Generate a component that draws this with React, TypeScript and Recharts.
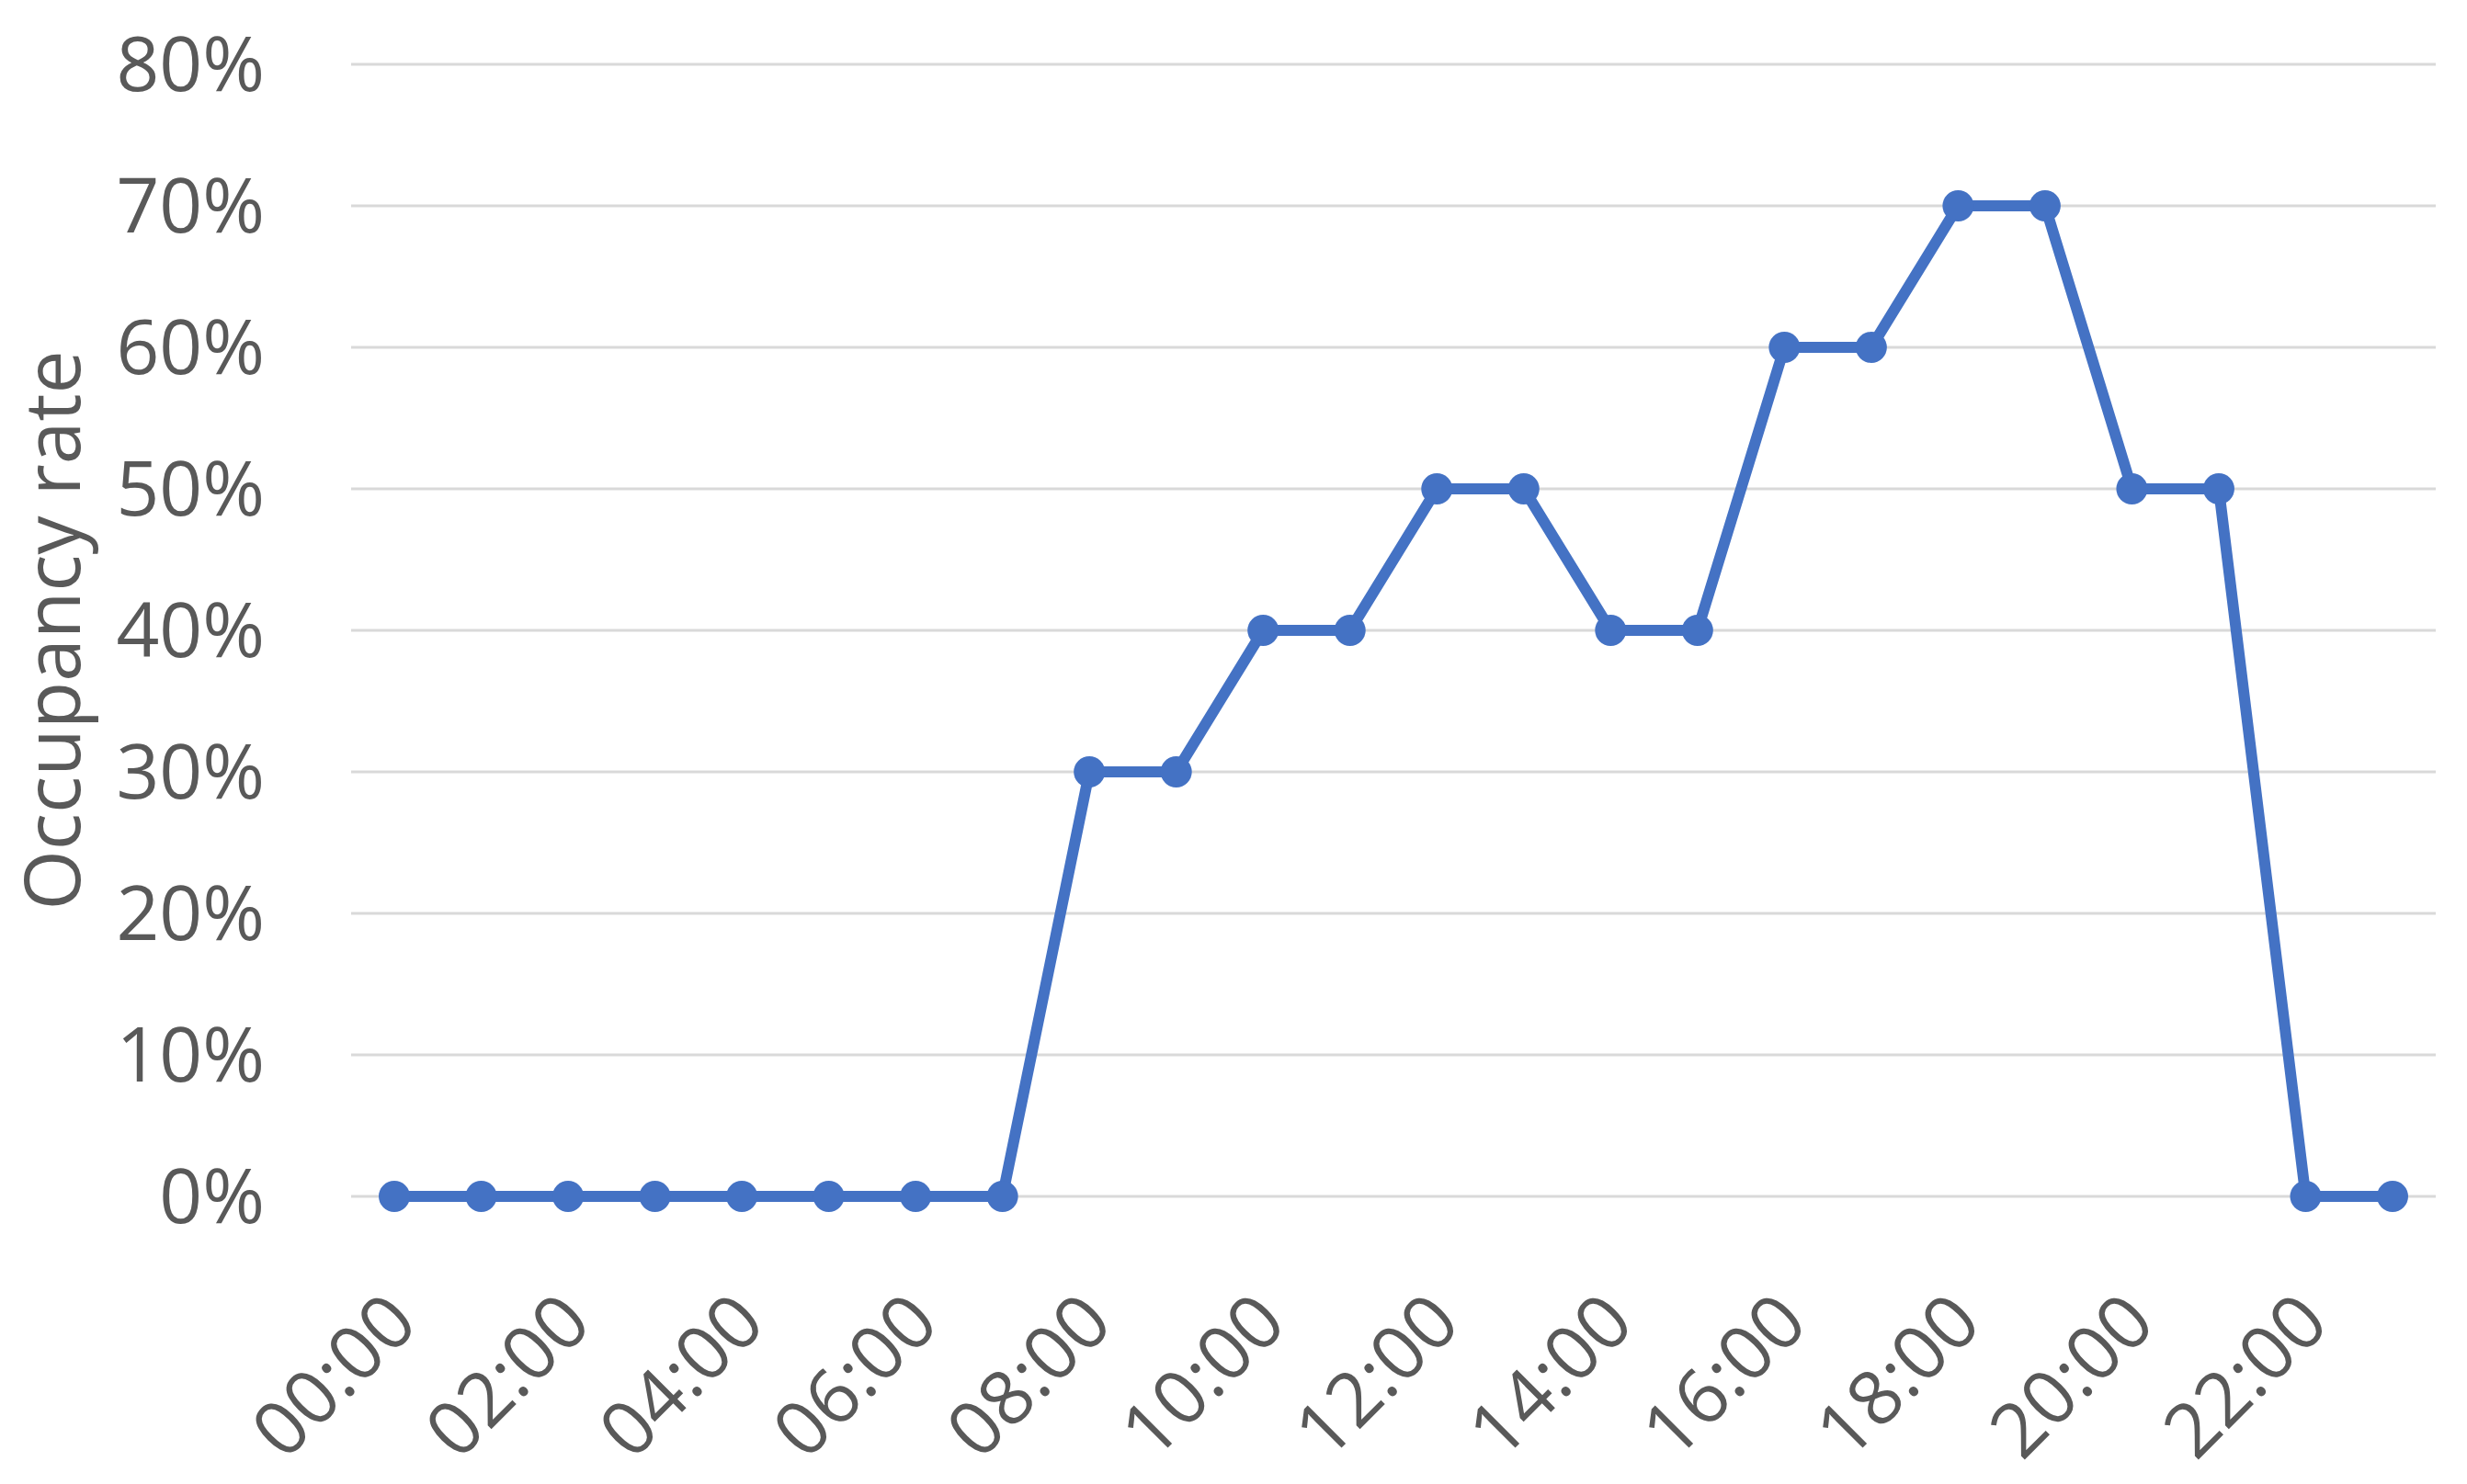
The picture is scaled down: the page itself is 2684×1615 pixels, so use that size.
import { LineChart, Line, XAxis, YAxis, CartesianGrid } from 'recharts'

const hours = [
  '00:00', '01:00', '02:00', '03:00', '04:00', '05:00', '06:00', '07:00',
  '08:00', '09:00', '10:00', '11:00', '12:00', '13:00', '14:00', '15:00',
  '16:00', '17:00', '18:00', '19:00', '20:00', '21:00', '22:00', '23:00',
]
const occupancy = [0, 0, 0, 0, 0, 0, 0, 0, 30, 30, 40, 40, 50, 50, 40, 40, 60, 60, 70, 70, 50, 50, 0, 0]
const yTicks = [0, 10, 20, 30, 40, 50, 60, 70, 80]

const data = hours.map((time, i) => ({ time, value: occupancy[i] }))

const FONT = '"Open Sans", "Noto Sans", sans-serif'
const TEXT = '#595959'
const BLUE = '#4472C4'

function HourTick({ x, y, payload }: any) {
  return (
    <g transform={`translate(${x + 8},${y + 121})`}>
      <text
        transform="rotate(-45)"
        textAnchor="end"
        dy="0.35em"
        fontSize={82}
        fontFamily={FONT}
        fill={TEXT}
      >
        {payload.value}
      </text>
    </g>
  )
}

function YTitle({ viewBox }: any) {
  const cx = 58
  const cy = viewBox.y + viewBox.height / 2
  return (
    <text
      x={cx}
      y={cy}
      transform={`rotate(-90, ${cx}, ${cy})`}
      textAnchor="middle"
      dy="0.35em"
      fontSize={84}
      fontFamily={FONT}
      fill={TEXT}
    >
      Occupancy rate
    </text>
  )
}

export default function App() {
  return (
    <div style={{ position: 'absolute', left: 0, top: 0, background: '#fff' }}>
      <LineChart
        width={2684}
        height={1615}
        data={data}
        margin={{ top: 70, right: 34, left: 0, bottom: 0 }}
      >
        <CartesianGrid vertical={false} stroke="#D9D9D9" strokeWidth={3} />
        <XAxis
          dataKey="time"
          interval={1}
          height={313}
          padding={{ left: 47, right: 47 }}
          tickLine={false}
          axisLine={false}
          tickSize={0}
          tickMargin={0}
          tick={<HourTick />}
        />
        <YAxis
          width={382}
          domain={[0, 80]}
          ticks={yTicks}
          tickFormatter={(v) => `${v}%`}
          tickLine={false}
          axisLine={false}
          tickSize={0}
          tickMargin={94}
          tick={{ fontSize: 82, fontFamily: FONT, fill: TEXT }}
          label={<YTitle />}
        />
        <Line
          type="linear"
          dataKey="value"
          stroke={BLUE}
          strokeWidth={12}
          strokeLinejoin="round"
          dot={{ r: 17, fill: BLUE, stroke: 'none' }}
          activeDot={false}
          isAnimationActive={false}
        />
      </LineChart>
    </div>
  )
}
